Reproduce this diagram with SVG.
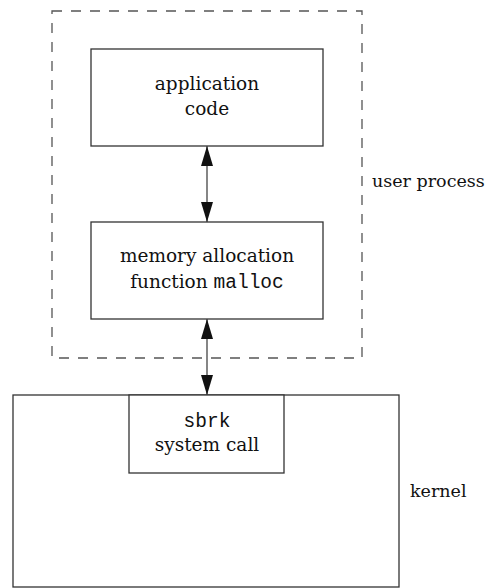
<svg xmlns="http://www.w3.org/2000/svg" width="488" height="588" viewBox="0 0 488 588">
<style>
.box{fill:#fff;stroke:#333;stroke-width:1.3}
.dash{fill:none;stroke:#555;stroke-width:1.3;stroke-dasharray:10 9}
.t{font-family:"DejaVu Serif","Liberation Serif",serif;font-size:17.5px;fill:#111}
.n{font-size:18.5px}
.m{font-family:"Liberation Mono","Courier New",monospace;font-size:19.5px;fill:#111}
.c{text-anchor:middle}
.link{stroke:#444;stroke-width:1.3;fill:none;marker-start:url(#ah);marker-end:url(#ah)}
</style>
<defs>
<marker id="ah" viewBox="0 0 20 12" refX="20" refY="6" markerWidth="20" markerHeight="12" markerUnits="userSpaceOnUse" orient="auto-start-reverse">
<path d="M0,0 L20,6 L0,12 Z" fill="#111"/>
</marker>
</defs>
<g id="user-process">
<rect class="dash" x="52" y="11" width="310" height="347"/>
<text class="t" x="372" y="187">user process</text>
</g>
<g id="kernel">
<rect class="box" x="13" y="395" width="386" height="192"/>
<text class="t" x="410" y="497">kernel</text>
</g>
<g id="app">
<rect class="box" x="91" y="49" width="232" height="97"/>
<text class="t n c" x="207" y="90">application</text>
<text class="t n c" x="207" y="115">code</text>
</g>
<g id="malloc">
<rect class="box" x="91" y="222" width="232" height="97"/>
<text class="t n c" x="207" y="262">memory allocation</text>
<text class="t n c" x="207" y="288">function <tspan class="m">malloc</tspan></text>
</g>
<g id="sbrk">
<rect class="box" x="129" y="395" width="155" height="78"/>
<text class="m c" x="207" y="427">sbrk</text>
<text class="t n c" x="207" y="451">system call</text>
</g>
<g id="connectors">
<line class="link" x1="207" y1="146" x2="207" y2="222"/>
<line class="link" x1="207" y1="319" x2="207" y2="395"/>
</g>
</svg>
